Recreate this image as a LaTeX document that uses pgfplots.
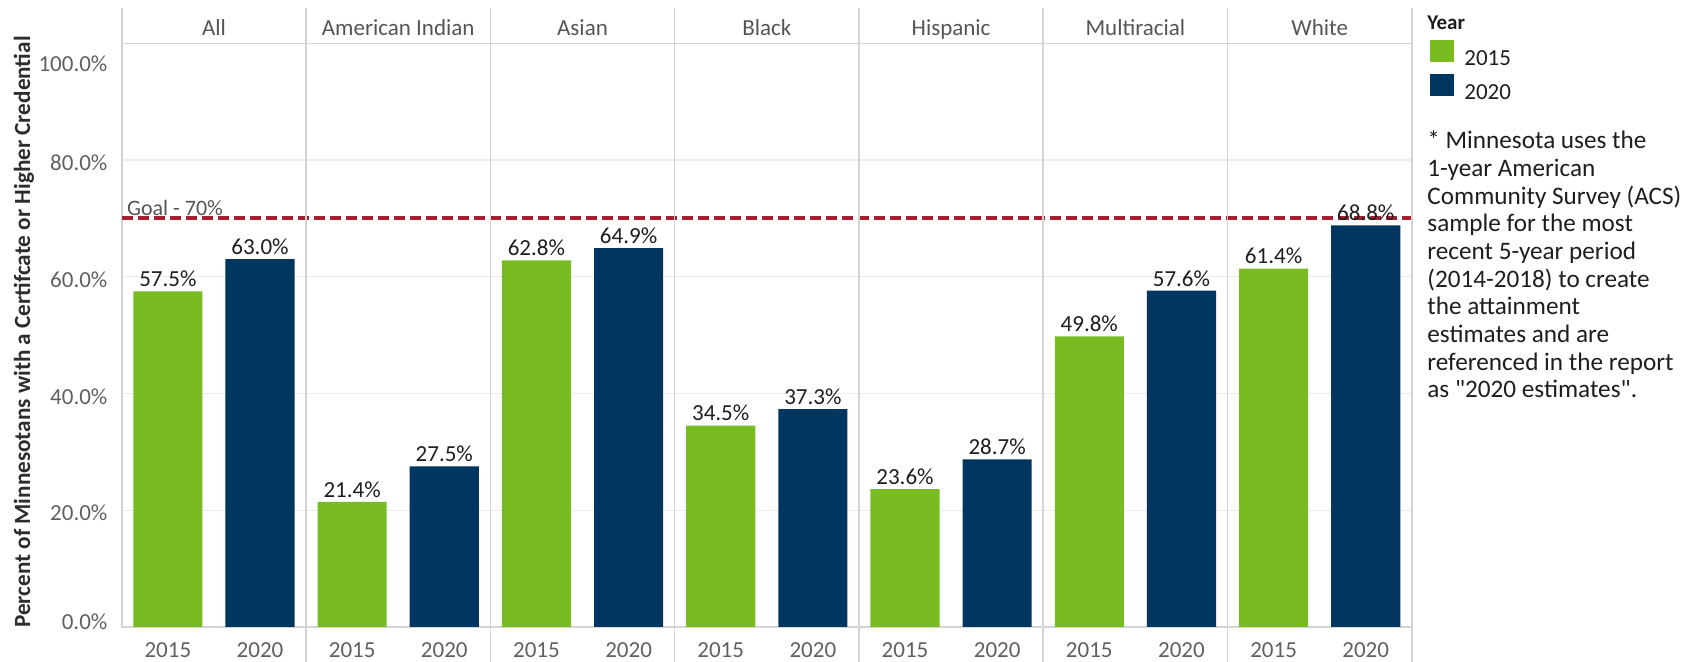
\documentclass[border=0pt]{standalone}
\usepackage{fontspec}
\setmainfont{Carlito}[Ligatures=TeXOff]
\usepackage{pgfplots}
\pgfplotsset{compat=1.18}
\definecolor{g15}{RGB}{121,188,33}
\definecolor{n20}{RGB}{0,54,95}
\definecolor{goal}{RGB}{164,32,49}
\definecolor{sepc}{RGB}{212,212,212}
\definecolor{gridc}{RGB}{236,236,236}
\definecolor{tickc}{RGB}{96,96,96}
\definecolor{hdr}{RGB}{85,85,85}
\definecolor{txt}{RGB}{30,30,30}
\definecolor{titlec}{RGB}{45,45,45}
\begin{document}
\begin{tikzpicture}
\path[use as bounding box] (-60.9pt,-17.2pt) rectangle (790.1pt,313.4pt);
\begin{axis}[
 at={(0,0)}, anchor=south west, scale only axis, width=645pt, height=291.7pt,
 xmin=0, xmax=14, ymin=0, ymax=100, clip=false,
 axis line style={draw=sepc, line width=0.8pt},
 major tick length=0pt,
 xtick={0.5,1.5,2.5,3.5,4.5,5.5,6.5,7.5,8.5,9.5,10.5,11.5,12.5,13.5},
 xticklabels={2015,2020,2015,2020,2015,2020,2015,2020,2015,2020,2015,2020,2015,2020},
 ytick={20,40,60,80},
 yticklabels={20.0\%,40.0\%,60.0\%,80.0\%},
 extra y ticks={1.3,97.1},
 extra y tick labels={0.0\%,100.0\%},
 extra y tick style={grid=none},
 ymajorgrids, grid style={draw=gridc, line width=0.6pt},
 tick label style={font=\fontsize{11.5}{13}\selectfont, text=tickc},
 xticklabel style={anchor=base, inner sep=0pt, yshift=-15.5pt},
 yticklabel style={anchor=east, inner sep=0pt, xshift=-7pt, yshift=-1.5pt},
 /pgf/number format/assume math mode=true,
 legend style={at={(rel axis cs:1,1)}, anchor=north west, xshift=9.1pt, yshift=1.7pt, draw=none, fill=none, inner sep=0pt, row sep=3pt, font=\fontsize{11.5}{13}\selectfont, text=txt, nodes={inner sep=0pt}, /tikz/every odd column/.append style={column sep=5pt}},
 legend cell align=left,
 every node near coord/.append style={font=\fontsize{11.5}{13}\selectfont, text=txt, anchor=south, inner sep=0pt, yshift=2pt},
]
\addplot[forget plot, goal, line width=2pt, dash pattern=on 5.8pt off 2.2pt] coordinates {(0,70) (14,70)};
\addplot[ybar, bar width=0.75, bar shift=0pt, fill=g15, draw=none,
  legend image code/.code={\fill[g15] (0pt,-1.5pt) rectangle (12pt,9.5pt);},
  nodes near coords={\pgfmathprintnumber[fixed,fixed zerofill,precision=1]{\pgfplotspointmeta}\%}]
  coordinates {(0.5,57.5) (2.5,21.4) (4.5,62.8) (6.5,34.5) (8.5,23.6) (10.5,49.8) (12.5,61.4)};
\addlegendentry{2015}
\addplot[ybar, bar width=0.75, bar shift=0pt, fill=n20, draw=none,
  legend image code/.code={\fill[n20] (0pt,-1.5pt) rectangle (12pt,9.5pt);},
  nodes near coords={\pgfmathprintnumber[fixed,fixed zerofill,precision=1]{\pgfplotspointmeta}\%}]
  coordinates {(1.5,63.0) (3.5,27.5) (5.5,64.9) (7.5,37.3) (9.5,28.7) (11.5,57.6) (13.5,68.8)};
\addlegendentry{2020}
\pgfplotsinvokeforeach{2,4,6,8,10,12}{\draw[sepc, line width=0.8pt] ([yshift=-18pt]axis cs:#1,0) -- ([yshift=17.7pt]axis cs:#1,100);}
\draw[sepc, line width=0.8pt] (axis cs:0,100) -- ([yshift=17.7pt]axis cs:0,100);
\draw[sepc, line width=0.8pt] ([yshift=-18pt]axis cs:14,0) -- ([yshift=17.7pt]axis cs:14,100);
\node[anchor=base, font=\fontsize{11.5}{13}\selectfont, text=hdr] at ([yshift=3.7pt]axis cs:1,100) {All};
\node[anchor=base, font=\fontsize{11.5}{13}\selectfont, text=hdr] at ([yshift=3.7pt]axis cs:3,100) {American Indian};
\node[anchor=base, font=\fontsize{11.5}{13}\selectfont, text=hdr] at ([yshift=3.7pt]axis cs:5,100) {Asian};
\node[anchor=base, font=\fontsize{11.5}{13}\selectfont, text=hdr] at ([yshift=3.7pt]axis cs:7,100) {Black};
\node[anchor=base, font=\fontsize{11.5}{13}\selectfont, text=hdr] at ([yshift=3.7pt]axis cs:9,100) {Hispanic};
\node[anchor=base, font=\fontsize{11.5}{13}\selectfont, text=hdr] at ([yshift=3.7pt]axis cs:11,100) {Multiracial};
\node[anchor=base, font=\fontsize{11.5}{13}\selectfont, text=hdr] at ([yshift=3.7pt]axis cs:13,100) {White};
\node[anchor=base west, inner sep=0pt, font=\fontsize{11}{13}\selectfont, text=hdr] at ([xshift=2.5pt,yshift=1.7pt]axis cs:0,70) {Goal - 70\%};
\node[rotate=90, font=\bfseries\fontsize{11.6}{13}\selectfont, text=titlec] at ([xshift=-48.9pt,yshift=1.5pt]rel axis cs:0,0.5) {Percent of Minnesotans with a Certifcate or Higher Credential};
\node[anchor=west, inner sep=0pt, font=\bfseries\fontsize{10.5}{12}\selectfont, text=txt] at ([xshift=7.6pt,yshift=10.2pt]rel axis cs:1,1) {Year};
\node[anchor=north west, inner sep=0pt, align=left, font=\fontsize{12.6}{13.85}\selectfont, text=txt] at ([xshift=7.6pt,yshift=-43.5pt]rel axis cs:1,1) {* Minnesota uses the\\1-year American\\Community Survey (ACS)\\sample for the most\\recent 5-year period\\(2014-2018) to create\\the attainment\\estimates and are\\referenced in the report\\as "2020 estimates".};
\end{axis}
\end{tikzpicture}
\end{document}
